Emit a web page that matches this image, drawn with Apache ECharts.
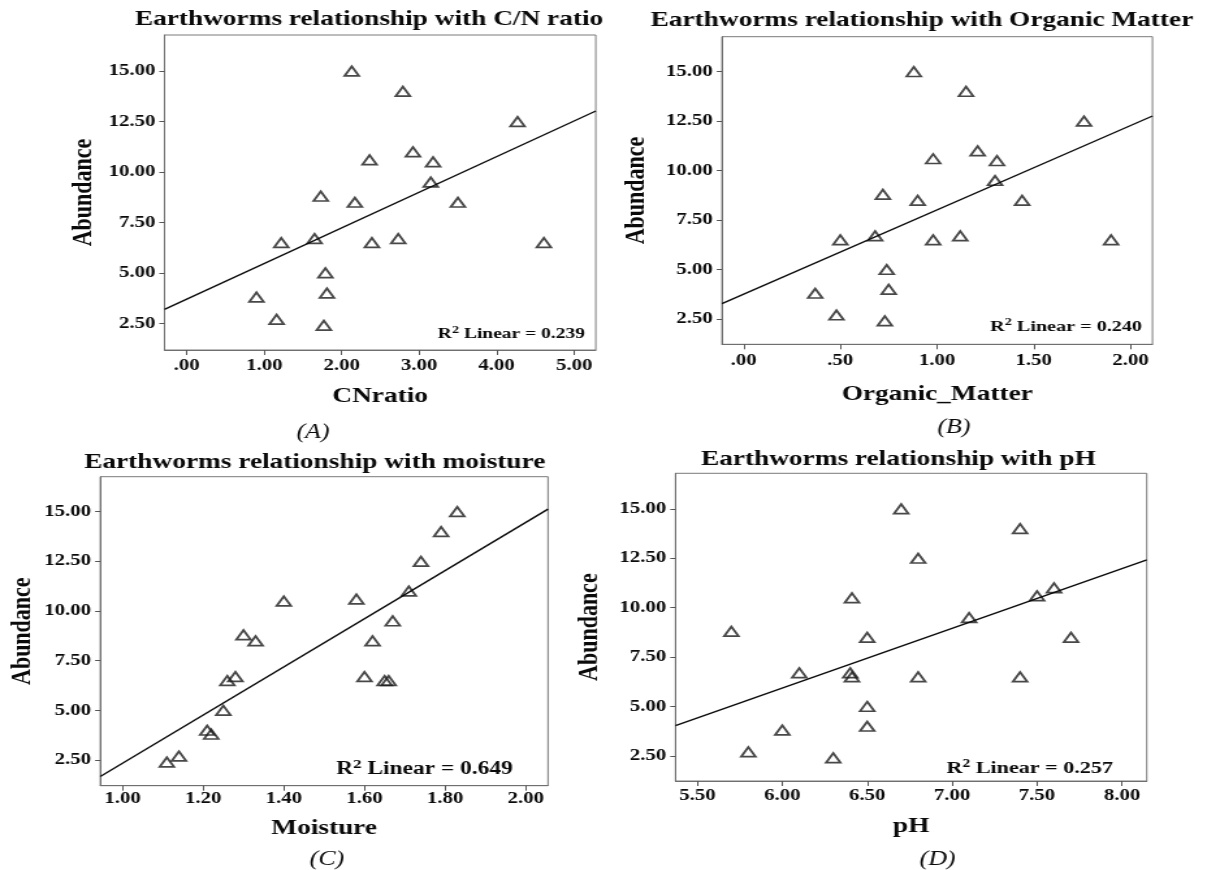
<!DOCTYPE html>
<html>
<head>
<meta charset="utf-8">
<title>Earthworms relationships</title>
<script src="https://cdn.jsdelivr.net/npm/echarts@6/dist/echarts.min.js"></script>
<style>
  html, body { margin: 0; padding: 0; background: #fff; overflow: hidden; }
  /* the original figure is stretched sideways, so the chart is drawn narrow and widened */
  #chart { width: 928px; height: 870px; transform: scaleX(1.3006); transform-origin: 0 0; }
</style>
</head>
<body>
<div id="chart"></div>
<script>
// earthworm abundance per sample, same order for every panel
const abundance = [15.0, 14.0, 12.5, 11.0, 10.6, 10.5, 9.5, 8.8, 8.5, 8.5, 6.5, 6.7, 6.5, 6.7, 6.5, 5.0, 4.0, 3.8, 2.7, 2.4]
const cnRatio = [2.13, 2.79, 4.27, 2.92, 2.36, 3.18, 3.15, 1.73, 2.17, 3.50, 1.22, 1.65, 2.39, 2.73, 4.61, 1.79, 1.81, 0.90, 1.16, 1.77]
const organicMatter = [0.88, 1.15, 1.76, 1.21, 0.98, 1.31, 1.30, 0.72, 0.90, 1.44, 0.50, 0.68, 0.98, 1.12, 1.90, 0.74, 0.75, 0.37, 0.48, 0.73]
const moisture = [1.83, 1.79, 1.74, 1.71, 1.58, 1.40, 1.67, 1.30, 1.33, 1.62, 1.26, 1.28, 1.65, 1.60, 1.66, 1.25, 1.21, 1.22, 1.14, 1.11]
const ph = [6.70, 7.40, 6.80, 7.60, 7.50, 6.41, 7.10, 5.70, 6.50, 7.70, 6.41, 6.10, 6.80, 6.40, 7.40, 6.50, 6.50, 6.00, 5.80, 6.30]

// linear fit lines as drawn: [intercept, slope]
const fitCN = [3.70, 1.766]
const fitOM = [3.75, 4.263]
const fitMoisture = [-9.78, 12.12]
const fitPH = [-12.21, 3.023]
const rSquared = ['0.239', '0.240', '0.649', '0.257']

// tick labels
const yTicks = [2.5, 5, 7.5, 10, 12.5, 15]
const xTicksCN = [0, 1, 2, 3, 4, 5]
const xTicksOM = [0, 0.5, 1, 1.5, 2]
const xTicksMoisture = [1, 1.2, 1.4, 1.6, 1.8, 2]
const xTicksPH = [5.5, 6, 6.5, 7, 7.5, 8]

const S = 1207 / 928
const X = v => v / S
const FONT = '"Liberation Serif", "Times New Roman", serif'
const INK = '#0a0a0a'

// layout of each panel, in page pixels
const panels = [
  {x: cnRatio, fit: fitCN, xTicks: xTicksCN, xMin: -0.287, xMax: 5.28, yMin: 1.18, yMax: 16.79,
    box: [164.5, 35, 595.8, 350], title: 'Earthworms relationship with C/N ratio', titlePos: [369, 20],
    xName: 'CNratio', xNameY: 397, yNameX: 84, caption: '(A)', capPos: [313, 433],
    r2Pos: [585, 334], r2Size: 15, labelMargin: 8},
  {x: organicMatter, fit: fitOM, xTicks: xTicksOM, xMin: -0.112, xMax: 2.114, yMin: 1.22, yMax: 16.77,
    box: [722, 36.7, 1152.5, 344.3], title: 'Earthworms relationship with Organic Matter', titlePos: [922, 21],
    xName: 'Organic_Matter', xNameY: 395, yNameX: 636.5, caption: '(B)', capPos: [954, 428],
    r2Pos: [1142, 326.7], r2Size: 15.5, labelMargin: 9},
  {x: moisture, fit: fitMoisture, xTicks: xTicksMoisture, xMin: 0.945, xMax: 2.055, yMin: 1.21, yMax: 16.76,
    box: [100.3, 476.7, 548, 785.7], title: 'Earthworms relationship with moisture', titlePos: [314.8, 462.5],
    xName: 'Moisture', xNameY: 828.3, yNameX: 22, caption: '(C)', capPos: [327, 860],
    r2Pos: [512.8, 769.3], r2Size: 18, labelMargin: 5},
  {x: ph, fit: fitPH, xTicks: xTicksPH, xMin: 5.371, xMax: 8.146, yMin: 1.23, yMax: 16.8,
    box: [675.5, 473.3, 1146.8, 781], title: 'Earthworms relationship with pH', titlePos: [898.4, 460],
    xName: 'pH', xNameY: 826.7, yNameX: 589, caption: '(D)', capPos: [937.6, 860],
    r2Pos: [1113, 768.3], r2Size: 17, labelMargin: 7}
]

const tickLabel = v => {
  const s = v.toFixed(2)
  return s.startsWith('0.') ? s.slice(1) : s
}

const grid = [], xAxis = [], yAxis = [], series = [], graphic = []

panels.forEach((p, i) => {
  const [l, t, r, b] = p.box
  grid.push({
    left: X(l), top: t, width: X(r - l), height: b - t,
    show: true, borderColor: '#7a7a7a', borderWidth: 1
  })
  xAxis.push({
    type: 'value', gridIndex: i, min: p.xMin, max: p.xMax,
    axisLine: {show: true, onZero: false, lineStyle: {color: '#6f6f6f', width: 1}},
    axisTick: {show: true, length: 5, customValues: p.xTicks, lineStyle: {color: '#555'}},
    axisLabel: {
      customValues: p.xTicks, margin: p.labelMargin, formatter: tickLabel,
      color: INK, fontFamily: FONT, fontWeight: 'bold', fontSize: 16
    },
    splitLine: {show: false}
  })
  yAxis.push({
    type: 'value', gridIndex: i, min: p.yMin, max: p.yMax,
    axisLine: {show: true, onZero: false, lineStyle: {color: '#6f6f6f', width: 1}},
    axisTick: {show: true, length: 4, customValues: yTicks, lineStyle: {color: '#555'}},
    axisLabel: {
      customValues: yTicks, margin: 7, formatter: v => v.toFixed(2),
      color: INK, fontFamily: FONT, fontWeight: 'bold', fontSize: 16
    },
    splitLine: {show: false}
  })
  series.push({
    type: 'scatter', xAxisIndex: i, yAxisIndex: i,
    data: p.x.map((v, k) => [v, abundance[k]]),
    symbol: 'triangle', symbolSize: [11, 9.5],
    itemStyle: {color: 'rgba(255,255,255,0)', borderColor: '#1a1a1a', borderWidth: 1.8},
    emphasis: {disabled: true}
  })
  series.push({
    type: 'line', xAxisIndex: i, yAxisIndex: i,
    data: [[p.xMin, p.fit[0] + p.fit[1] * p.xMin], [p.xMax, p.fit[0] + p.fit[1] * p.xMax]],
    symbol: 'none', clip: true, silent: true,
    lineStyle: {color: INK, width: 1.4}
  })

  // titles, axis names, captions and R² notes
  graphic.push({
    type: 'text', x: X(p.titlePos[0]), y: p.titlePos[1],
    style: {text: p.title, font: `bold 21px ${FONT}`, fill: INK, align: 'center', verticalAlign: 'middle'}
  })
  graphic.push({
    type: 'text', x: X((l + r) / 2), y: p.xNameY,
    style: {text: p.xName, font: `bold 21px ${FONT}`, fill: INK, align: 'center', verticalAlign: 'middle'}
  })
  graphic.push({
    type: 'text', x: X(p.yNameX), y: (t + b) / 2, rotation: Math.PI / 2,
    style: {text: 'Abundance', font: `bold 22px ${FONT}`, fill: INK, align: 'center', verticalAlign: 'middle'}
  })
  graphic.push({
    type: 'text', x: X(p.capPos[0]), y: p.capPos[1],
    style: {text: p.caption, font: `italic 20px ${FONT}`, fill: INK, align: 'center', verticalAlign: 'middle'}
  })
  graphic.push({
    type: 'text', x: X(p.r2Pos[0]), y: p.r2Pos[1],
    style: {
      text: `{n|R}{s|2}{n| Linear = ${rSquared[i]}}`,
      align: 'right', verticalAlign: 'middle',
      rich: {
        n: {fontFamily: FONT, fontWeight: 'bold', fontSize: p.r2Size, fill: INK, lineHeight: p.r2Size + 4},
        s: {fontFamily: FONT, fontWeight: 'bold', fontSize: Math.round(p.r2Size * 0.7), fill: INK,
          lineHeight: Math.round(p.r2Size * 0.7), verticalAlign: 'top'}
      }
    }
  })
})

const chart = echarts.init(document.getElementById('chart'))
chart.setOption({
  animation: false,
  backgroundColor: '#fff',
  grid, xAxis, yAxis, series, graphic
})
</script>
</body>
</html>
